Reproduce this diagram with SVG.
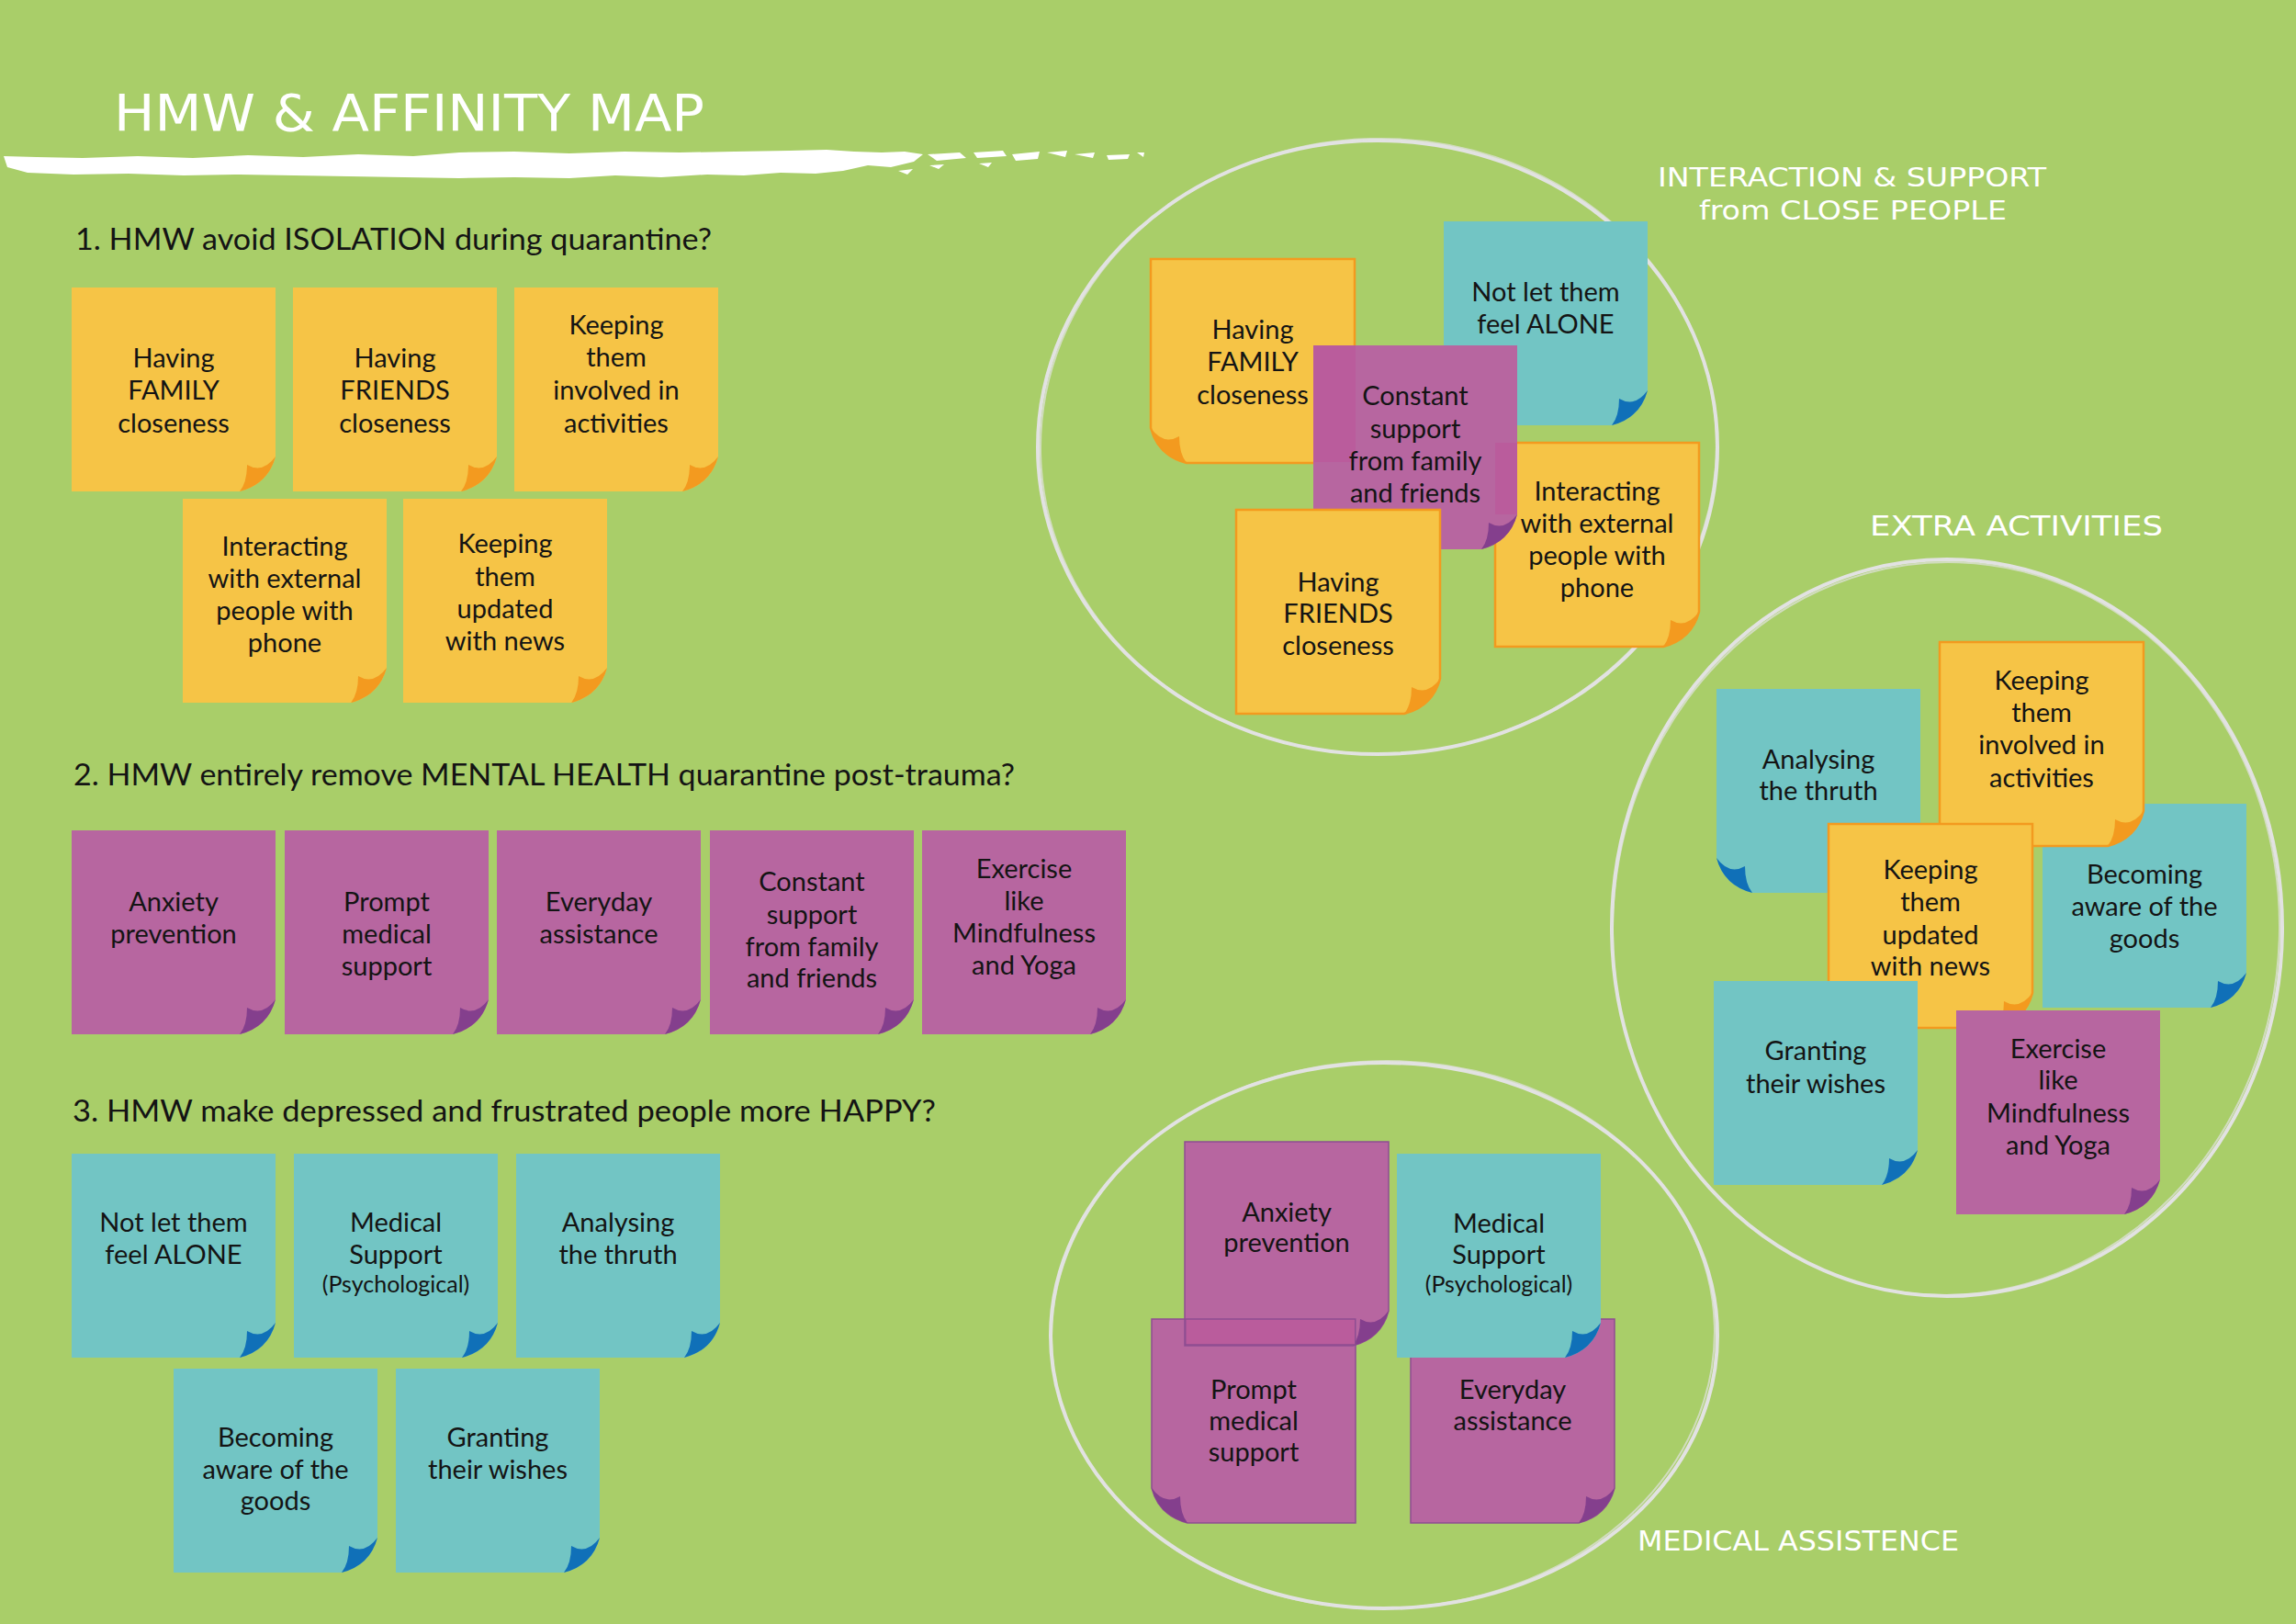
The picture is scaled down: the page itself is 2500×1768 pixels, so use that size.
<svg xmlns="http://www.w3.org/2000/svg" xmlns:xlink="http://www.w3.org/1999/xlink" width="2500" height="1768" viewBox="0 0 2500 1768">
<style>
.bg{fill:#A9CE69}
.y{fill:#F6C446}.yc{fill:#F39A1F}
.yb{fill:#F6C446;stroke:#F39A1F;stroke-width:2.5}
.tl{fill:#72C5C4}.tc{fill:#1070B8}
.p{fill:#B766A0}.pc{fill:#843F8D}
.pb{fill:#B766A0;stroke:#8E4D91;stroke-width:1.5}
.ov{fill:#BA5C9C}
.t{font-family:Lato,"Liberation Sans",sans-serif;font-weight:400;font-size:29px;fill:#141414;text-anchor:middle}
.ts{font-size:25px}
.h{font-family:Lato,"Liberation Sans",sans-serif;font-weight:400;font-size:33px;fill:#141414}
.ch{font-family:"DejaVu Sans Condensed","DejaVu Sans",sans-serif;fill:#fff}
.ring{fill:none;stroke:#E2E2E2;stroke-width:4}
.ring2{fill:none;stroke:#E2E2E2;stroke-width:2;opacity:.7}
</style>
<defs>
<path id="nb" d="M0,0 H222 V184 Q214,214 183,222 H0 Z"/>
<path id="nc" d="M183,222 Q214,214 222,184 Q208,203 191,193 Q191,212 183,222 Z"/>
</defs>
<rect class="bg" x="0" y="0" width="2500" height="1768"/>

<g id="title">
<path fill="#fff" d="M4,170 L40,171 L90,172 L150,170 L210,172 L270,169 L330,171 L390,168 L450,170 L500,166 L560,165 L620,167 L680,165 L740,166 L800,165 L860,164 L900,163 L930,165 L960,166 L985,165 L1005,168 L995,176 L970,182 L945,180 L918,186 L888,189 L850,188 L810,191 L770,190 L720,193 L670,191 L620,194 L560,193 L500,194 L440,193 L380,192 L320,191 L260,190 L200,191 L140,189 L80,190 L30,188 L8,182 Z"/>
<path fill="#fff" d="M1010,168 L1045,166 L1052,172 L1020,175 Z M1060,166 L1092,164 L1096,170 L1064,172 Z M1102,168 L1132,165 L1130,173 L1106,175 Z M1140,166 L1162,164 L1160,171 Z M1170,168 L1192,166 L1190,172 Z M1205,169 L1230,168 L1228,173 L1207,174 Z M1238,166 L1246,166 L1245,171 Z M978,186 L994,184 L988,190 Z M1012,180 L1028,179 L1022,184 Z M1066,178 L1080,177 L1076,182 Z"/>
<text class="ch" x="124" y="142" font-size="55" textLength="643" lengthAdjust="spacingAndGlyphs">HMW &amp; AFFINITY MAP</text>
</g>

<g id="headings">
<text class="h" x="82" y="272" textLength="693" lengthAdjust="spacingAndGlyphs">1. HMW avoid ISOLATION during quarantine?</text>
<text class="h" x="80" y="855" textLength="1025" lengthAdjust="spacingAndGlyphs">2. HMW entirely remove MENTAL HEALTH quarantine post-trauma?</text>
<text class="h" x="79" y="1221" textLength="940" lengthAdjust="spacingAndGlyphs">3. HMW make depressed and frustrated people more HAPPY?</text>
</g>

<g id="rings">
<ellipse class="ring" cx="1500" cy="487" rx="370" ry="334"/>
<ellipse class="ring2" cx="1501" cy="486" rx="368" ry="335" transform="rotate(-1.5 1500 487)"/>
<ellipse class="ring" cx="2120" cy="1010" rx="365" ry="401"/>
<ellipse class="ring2" cx="2119" cy="1011" rx="363" ry="399" transform="rotate(2 2120 1010)"/>
<ellipse class="ring" cx="1507" cy="1454" rx="363" ry="297"/>
<ellipse class="ring2" cx="1506" cy="1453" rx="361" ry="298" transform="rotate(-1.5 1507 1454)"/>
</g>

<g id="labels">
<text class="ch" x="1805" y="203" font-size="28" textLength="423" lengthAdjust="spacingAndGlyphs">INTERACTION &amp; SUPPORT</text>
<text class="ch" x="1850" y="239" font-size="28" textLength="335" lengthAdjust="spacingAndGlyphs">from CLOSE PEOPLE</text>
<text class="ch" x="2036" y="583" font-size="31" textLength="319" lengthAdjust="spacingAndGlyphs">EXTRA ACTIVITIES</text>
<text class="ch" x="1783" y="1688" font-size="30" textLength="350" lengthAdjust="spacingAndGlyphs">MEDICAL ASSISTENCE</text>
</g>

<!-- Question 1 -->
<g id="q1-family" transform="translate(78,313)"><use href="#nb" class="y"/><use href="#nc" class="yc"/><text class="t"><tspan x="111" y="87">Having</tspan><tspan x="111" y="122">FAMILY</tspan><tspan x="111" y="158">closeness</tspan></text></g>
<g id="q1-friends" transform="translate(319,313)"><use href="#nb" class="y"/><use href="#nc" class="yc"/><text class="t"><tspan x="111" y="87">Having</tspan><tspan x="111" y="122">FRIENDS</tspan><tspan x="111" y="158">closeness</tspan></text></g>
<g id="q1-involved" transform="translate(560,313)"><use href="#nb" class="y"/><use href="#nc" class="yc"/><text class="t"><tspan x="111" y="51">Keeping</tspan><tspan x="111" y="86">them</tspan><tspan x="111" y="122">involved in</tspan><tspan x="111" y="158">activities</tspan></text></g>
<g id="q1-interacting" transform="translate(199,543)"><use href="#nb" class="y"/><use href="#nc" class="yc"/><text class="t"><tspan x="111" y="62">Interacting</tspan><tspan x="111" y="97">with external</tspan><tspan x="111" y="132">people with</tspan><tspan x="111" y="167">phone</tspan></text></g>
<g id="q1-news" transform="translate(439,543)"><use href="#nb" class="y"/><use href="#nc" class="yc"/><text class="t"><tspan x="111" y="59">Keeping</tspan><tspan x="111" y="95">them</tspan><tspan x="111" y="130">updated</tspan><tspan x="111" y="165">with news</tspan></text></g>

<!-- Question 2 -->
<g id="q2-anxiety" transform="translate(78,904)"><use href="#nb" class="p"/><use href="#nc" class="pc"/><text class="t"><tspan x="111" y="88">Anxiety</tspan><tspan x="111" y="123">prevention</tspan></text></g>
<g id="q2-prompt" transform="translate(310,904)"><use href="#nb" class="p"/><use href="#nc" class="pc"/><text class="t"><tspan x="111" y="88">Prompt</tspan><tspan x="111" y="123">medical</tspan><tspan x="111" y="158">support</tspan></text></g>
<g id="q2-everyday" transform="translate(541,904)"><use href="#nb" class="p"/><use href="#nc" class="pc"/><text class="t"><tspan x="111" y="88">Everyday</tspan><tspan x="111" y="123">assistance</tspan></text></g>
<g id="q2-constant" transform="translate(773,904)"><use href="#nb" class="p"/><use href="#nc" class="pc"/><text class="t"><tspan x="111" y="66">Constant</tspan><tspan x="111" y="102">support</tspan><tspan x="111" y="137">from family</tspan><tspan x="111" y="171">and friends</tspan></text></g>
<g id="q2-exercise" transform="translate(1004,904)"><use href="#nb" class="p"/><use href="#nc" class="pc"/><text class="t"><tspan x="111" y="52">Exercise</tspan><tspan x="111" y="87">like</tspan><tspan x="111" y="122">Mindfulness</tspan><tspan x="111" y="157">and Yoga</tspan></text></g>

<!-- Question 3 -->
<g id="q3-alone" transform="translate(78,1256)"><use href="#nb" class="tl"/><use href="#nc" class="tc"/><text class="t"><tspan x="111" y="85">Not let them</tspan><tspan x="111" y="120">feel ALONE</tspan></text></g>
<g id="q3-medical" transform="translate(320,1256)"><use href="#nb" class="tl"/><use href="#nc" class="tc"/><text class="t"><tspan x="111" y="85">Medical</tspan><tspan x="111" y="120">Support</tspan><tspan x="111" y="151" class="ts">(Psychological)</tspan></text></g>
<g id="q3-analysing" transform="translate(562,1256)"><use href="#nb" class="tl"/><use href="#nc" class="tc"/><text class="t"><tspan x="111" y="85">Analysing</tspan><tspan x="111" y="120">the thruth</tspan></text></g>
<g id="q3-goods" transform="translate(189,1490)"><use href="#nb" class="tl"/><use href="#nc" class="tc"/><text class="t"><tspan x="111" y="85">Becoming</tspan><tspan x="111" y="120">aware of the</tspan><tspan x="111" y="154">goods</tspan></text></g>
<g id="q3-wishes" transform="translate(431,1490)"><use href="#nb" class="tl"/><use href="#nc" class="tc"/><text class="t"><tspan x="111" y="85">Granting</tspan><tspan x="111" y="120">their wishes</tspan></text></g>

<!-- Cluster: interaction & support -->
<g id="c1-family" transform="translate(1253,282)"><g transform="matrix(-1,0,0,1,222,0)"><use href="#nb" class="yb"/><use href="#nc" class="yc"/></g><text class="t"><tspan x="111" y="87">Having</tspan><tspan x="111" y="122">FAMILY</tspan><tspan x="111" y="158">closeness</tspan></text></g>
<g id="c1-alone" transform="translate(1572,241)"><use href="#nb" class="tl"/><use href="#nc" class="tc"/><text class="t"><tspan x="111" y="87">Not let them</tspan><tspan x="111" y="122">feel ALONE</tspan></text></g>
<g id="c1-interacting" transform="translate(1628,482)"><use href="#nb" class="yb"/><use href="#nc" class="yc"/><text class="t"><tspan x="111" y="63">Interacting</tspan><tspan x="111" y="98">with external</tspan><tspan x="111" y="133">people with</tspan><tspan x="111" y="168">phone</tspan></text></g>
<g id="c1-constant" transform="translate(1430,376)"><use href="#nb" class="p"/><use href="#nc" class="pc"/><rect class="ov" x="0" y="0" width="46" height="127"/><rect class="ov" x="198" y="106" width="24" height="78"/><text class="t"><tspan x="111" y="65">Constant</tspan><tspan x="111" y="101">support</tspan><tspan x="111" y="136">from family</tspan><tspan x="111" y="171">and friends</tspan></text></g>
<g id="c1-friends" transform="translate(1346,555)"><use href="#nb" class="yb"/><use href="#nc" class="yc"/><text class="t"><tspan x="111" y="89">Having</tspan><tspan x="111" y="123">FRIENDS</tspan><tspan x="111" y="158">closeness</tspan></text></g>

<!-- Cluster: extra activities -->
<g id="c2-analysing" transform="translate(1869,750)"><g transform="matrix(-1,0,0,1,222,0)"><use href="#nb" class="tl"/><use href="#nc" class="tc"/></g><text class="t"><tspan x="111" y="87">Analysing</tspan><tspan x="111" y="121">the thruth</tspan></text></g>
<g id="c2-goods" transform="translate(2224,875)"><use href="#nb" class="tl"/><use href="#nc" class="tc"/><text class="t"><tspan x="111" y="87">Becoming</tspan><tspan x="111" y="122">aware of the</tspan><tspan x="111" y="157">goods</tspan></text></g>
<g id="c2-involved" transform="translate(2112,699)"><use href="#nb" class="yb"/><use href="#nc" class="yc"/><text class="t"><tspan x="111" y="52">Keeping</tspan><tspan x="111" y="87">them</tspan><tspan x="111" y="122">involved in</tspan><tspan x="111" y="158">activities</tspan></text></g>
<g id="c2-news" transform="translate(1991,897)"><use href="#nb" class="yb"/><use href="#nc" class="yc"/><text class="t"><tspan x="111" y="60">Keeping</tspan><tspan x="111" y="95">them</tspan><tspan x="111" y="131">updated</tspan><tspan x="111" y="165">with news</tspan></text></g>
<g id="c2-wishes" transform="translate(1866,1068)"><use href="#nb" class="tl"/><use href="#nc" class="tc"/><text class="t"><tspan x="111" y="86">Granting</tspan><tspan x="111" y="122">their wishes</tspan></text></g>
<g id="c2-exercise" transform="translate(2130,1100)"><use href="#nb" class="p"/><use href="#nc" class="pc"/><text class="t"><tspan x="111" y="52">Exercise</tspan><tspan x="111" y="86">like</tspan><tspan x="111" y="122">Mindfulness</tspan><tspan x="111" y="157">and Yoga</tspan></text></g>

<!-- Cluster: medical assistence -->
<g id="c3-prompt" transform="translate(1254,1436)"><g transform="matrix(-1,0,0,1,222,0)"><use href="#nb" class="pb"/><use href="#nc" class="pc"/></g><text class="t"><tspan x="111" y="87">Prompt</tspan><tspan x="111" y="121">medical</tspan><tspan x="111" y="155">support</tspan></text></g>
<g id="c3-everyday" transform="translate(1536,1436)"><use href="#nb" class="pb"/><use href="#nc" class="pc"/><text class="t"><tspan x="111" y="87">Everyday</tspan><tspan x="111" y="121">assistance</tspan></text></g>
<g id="c3-anxiety" transform="translate(1290,1243)"><use href="#nb" class="pb"/><use href="#nc" class="pc"/><rect class="ov" x="0.75" y="193" width="185" height="28" stroke="#8E4D91" stroke-width="1.5"/><text class="t"><tspan x="111" y="87">Anxiety</tspan><tspan x="111" y="120">prevention</tspan></text></g>
<g id="c3-medical" transform="translate(1521,1256)"><use href="#nb" class="tl"/><use href="#nc" class="tc"/><text class="t"><tspan x="111" y="86">Medical</tspan><tspan x="111" y="120">Support</tspan><tspan x="111" y="151" class="ts">(Psychological)</tspan></text></g>
</svg>
